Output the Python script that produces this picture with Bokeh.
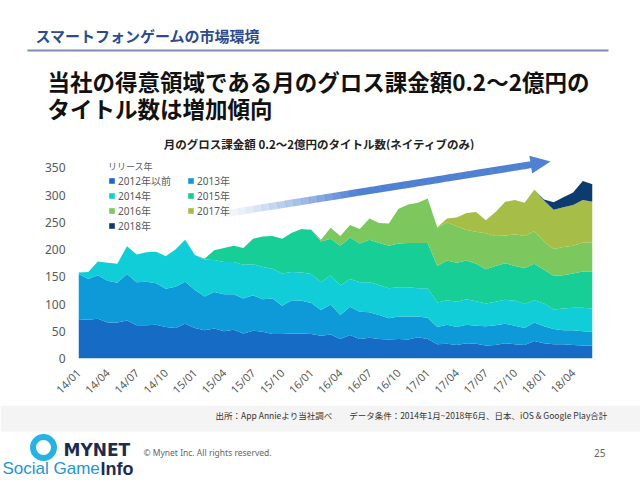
import math
from bokeh.plotting import figure
from bokeh.layouts import column
from bokeh.models import ColumnDataSource, Range1d, FixedTicker, Label
from bokeh.embed import file_html
from bokeh.resources import INLINE

# ---------------- data ----------------
tick_labels = ["14/01", "14/04", "14/07", "14/10", "15/01", "15/04", "15/07", "15/10",
               "16/01", "16/04", "16/07", "16/10", "17/01", "17/04", "17/07", "17/10",
               "18/01", "18/04"]
release_years = ["2012年以前", "2013年", "2014年", "2015年", "2016年", "2017年", "2018年"]

s2012 = [72, 71, 73, 66, 66, 70, 61, 61, 62, 58, 56, 64, 56, 52, 55, 50, 53, 46, 51, 49,
         45, 45, 46, 46, 45, 42, 44, 36, 43, 36, 38, 36, 35, 36, 35, 39, 36, 26, 27, 25,
         28, 27, 24, 25, 28, 26, 25, 32, 28, 26, 26, 25, 24, 24]
s2013 = [83, 75, 80, 77, 73, 85, 79, 80, 76, 70, 76, 77, 70, 62, 67, 68, 65, 64, 65, 60,
         65, 52, 61, 60, 57, 47, 55, 44, 52, 50, 47, 44, 39, 41, 42, 38, 39, 32, 35, 33,
         34, 33, 35, 36, 36, 34, 31, 34, 31, 28, 26, 27, 26, 25]
s2014 = [3, 13, 25, 33, 35, 51, 51, 54, 58, 60, 68, 77, 64, 68, 59, 59, 59, 62, 57, 59,
         55, 59, 52, 52, 53, 51, 54, 54, 51, 54, 55, 55, 55, 54, 54, 52, 54, 45, 45, 46,
         47, 45, 42, 43, 44, 46, 44, 41, 42, 36, 40, 41, 43, 43]
s2015 = [0, 0, 0, 0, 0, 0, 0, 0, 0, 0, 0, 0, 0, 1, 18, 26, 30, 31, 47, 56,
         60, 64, 72, 80, 81, 75, 67, 73, 76, 71, 78, 77, 78, 80, 81, 83, 83, 67, 73, 72,
         71, 69, 63, 66, 67, 64, 66, 67, 62, 62, 61, 63, 67, 68]
s2016 = [0, 0, 0, 0, 0, 0, 0, 0, 0, 0, 0, 0, 0, 0, 0, 0, 0, 0, 0, 0,
         0, 0, 0, 0, 1, 3, 20, 18, 23, 27, 39, 37, 41, 64, 71, 74, 82, 70, 70, 67,
         56, 59, 66, 55, 51, 58, 59, 60, 52, 49, 52, 51, 53, 53]
s2017 = [0, 0, 0, 0, 0, 0, 0, 0, 0, 0, 0, 0, 0, 0, 0, 0, 0, 0, 0, 0,
         0, 0, 0, 0, 0, 0, 0, 0, 0, 0, 0, 0, 0, 0, 0, 0, 0, 1, 7, 16,
         31, 36, 24, 44, 62, 63, 61, 76, 75, 72, 73, 75, 78, 75]
s2018 = [0, 0, 0, 0, 0, 0, 0, 0, 0, 0, 0, 0, 0, 0, 0, 0, 0, 0, 0, 0,
         0, 0, 0, 0, 0, 0, 0, 0, 0, 0, 0, 0, 0, 0, 0, 0, 0, 0, 0, 0,
         0, 0, 0, 0, 0, 0, 0, 0, 2, 14, 18, 23, 35, 32]
y_ticks = [0, 50, 100, 150, 200, 250, 300, 350]

colors = ["#166cc4", "#0e9ad8", "#10cdd8", "#16ce96", "#7cc85e", "#a6be48", "#0d3b6e"]

JP = "Noto Sans CJK JP"
W = 640


def deco_fig(y0, h):
    f = figure(width=W, height=h, output_backend="svg", toolbar_location=None,
               x_range=Range1d(0, W), y_range=Range1d(y0 + h, y0),
               x_axis_type=None, y_axis_type=None,
               min_border_left=0, min_border_right=0, min_border_top=0, min_border_bottom=0)
    f.outline_line_color = None
    f.background_fill_color = "white"
    f.border_fill_color = "white"
    f.frame_align = False
    return f


def add_text(f, text, x, y, size, color, bold=False, align="left", font=JP):
    f.add_layout(Label(x=x, y=y, text=text, text_font=font, text_font_size=f"{size}px",
                       text_color=color, text_font_style="bold" if bold else "normal",
                       text_align=align, text_baseline="middle"))


# ---------------- top (slide header) ----------------
TOP_H = 150
top = deco_fig(0, TOP_H)
add_text(top, "スマートフォンゲームの市場環境", 35, 35, 15, "#2d4b8e", bold=True)
top.segment(x0=[27], y0=[50], x1=[608], y1=[50], line_color="#7d8db5", line_width=2)
add_text(top, "当社の得意領域である月のグロス課金額0.2～2億円の", 47, 80, 22.5, "#111111", bold=True)
add_text(top, "タイトル数は増加傾向", 47, 107, 22.5, "#111111", bold=True)
add_text(top, "月のグロス課金額 0.2～2億円のタイトル数(ネイティブのみ)", 319, 143, 11.5,
         "#222222", bold=True, align="center")

# ---------------- chart ----------------
N = len(s2012)
keys = ["s2012", "s2013", "s2014", "s2015", "s2016", "s2017", "s2018"]
src = ColumnDataSource(dict(x=list(range(N)), s2012=s2012, s2013=s2013, s2014=s2014,
                            s2015=s2015, s2016=s2016, s2017=s2017, s2018=s2018))

CH_Y0, CH_H = TOP_H, 255          # chart figure spans canvas y 150..405
FL, FR, FT, FB = 78, 592, 150, 358  # frame in canvas pixels
YMAX = 382

p = figure(width=W, height=CH_H, output_backend="svg", toolbar_location=None,
           x_range=Range1d(0, N - 1), y_range=Range1d(0, YMAX),
           min_border_left=FL, min_border_right=W - FR,
           min_border_top=FT - CH_Y0, min_border_bottom=CH_Y0 + CH_H - FB)
p.frame_align = False
p.outline_line_color = None
p.background_fill_color = "white"
p.border_fill_color = "white"
p.xgrid.grid_line_color = None
p.ygrid.grid_line_color = None

p.varea_stack(stackers=keys, x="x", color=colors, source=src, legend_label=release_years)

p.yaxis.ticker = FixedTicker(ticks=y_ticks)
p.yaxis.axis_line_color = None
p.yaxis.major_tick_line_color = None
p.yaxis.minor_tick_line_color = None
p.yaxis.major_label_text_font_size = "12px"
p.yaxis.major_label_text_color = "#595959"
p.yaxis.major_label_text_font = "Noto Sans"
p.yaxis.major_label_standoff = 7

tick_pos = list(range(0, 3 * len(tick_labels), 3))
p.xaxis.ticker = FixedTicker(ticks=tick_pos)
p.xaxis.major_label_overrides = {t: l for t, l in zip(tick_pos, tick_labels)}
p.xaxis.major_label_orientation = math.pi / 4
p.xaxis.axis_line_color = None
p.xaxis.major_tick_line_color = None
p.xaxis.minor_tick_line_color = None
p.xaxis.major_label_text_font_size = "11px"
p.xaxis.major_label_text_color = "#595959"
p.xaxis.major_label_text_font = "Noto Sans"
p.xaxis.major_label_standoff = 6

lg = p.legend[0]
items = list(lg.items)
lg.items = [items[i] for i in (0, 2, 4, 6, 1, 3, 5)]   # column-major -> row order of reference
lg.ncols = 2
lg.title = "リリース年"
lg.title_text_font = JP
lg.title_text_font_size = "9px"
lg.title_text_color = "#595959"
lg.title_text_font_style = "normal"
lg.title_text_line_height = 1.0
lg.title_standoff = 0
lg.label_text_font = "'Noto Sans', 'Noto Sans CJK JP'"
lg.label_text_font_size = "10px"
lg.label_text_line_height = 1.0
lg.label_text_color = "#595959"
lg.label_height = 11
lg.label_width = 69
lg.label_standoff = 3
lg.glyph_width = 7
lg.glyph_height = 7
lg.spacing = 0
lg.padding = 0
lg.margin = 0
lg.background_fill_alpha = 0
lg.border_line_color = None
lg.location = (30, 125)


def dx(px):
    return (px - FL) * (N - 1) / (FR - FL)


def dy(py):
    return (FB - py) * YMAX / (FB - FT)


# trend arrow (gradient shaft)
tail = (214.0, 215.0)
tip = (550.0, 161.0)
L = math.hypot(tip[0] - tail[0], tip[1] - tail[1])
ux, uy = (tip[0] - tail[0]) / L, (tip[1] - tail[1]) / L
nx, ny = -uy, ux
head_len, head_hw, shaft_hw = 20.0, 9.0, 3.5
bxp, byp = tip[0] - ux * head_len, tip[1] - uy * head_len
xs, ys, al = [], [], []
NS = 40
for k in range(NS):
    t0, t1 = k / NS, (k + 1) / NS
    ax0, ay0 = tail[0] + (bxp - tail[0]) * t0, tail[1] + (byp - tail[1]) * t0
    ax1 = tail[0] + (bxp - tail[0]) * t1 + ux * 0.4
    ay1 = tail[1] + (byp - tail[1]) * t1 + uy * 0.4
    pts = [(ax0 + nx * shaft_hw, ay0 + ny * shaft_hw), (ax1 + nx * shaft_hw, ay1 + ny * shaft_hw),
           (ax1 - nx * shaft_hw, ay1 - ny * shaft_hw), (ax0 - nx * shaft_hw, ay0 - ny * shaft_hw)]
    xs.append([dx(a) for a, b in pts])
    ys.append([dy(b) for a, b in pts])
    al.append(min(1.0, ((t0 + t1) / 2) / 0.45) ** 1.3)
head = [(bxp + nx * head_hw, byp + ny * head_hw), tip, (bxp - nx * head_hw, byp - ny * head_hw)]
xs.append([dx(a) for a, b in head])
ys.append([dy(b) for a, b in head])
al.append(1.0)
p.patches("xs", "ys", source=ColumnDataSource(dict(xs=xs, ys=ys, a=al)),
          fill_color="#4f80d2", fill_alpha="a", line_color=None)

# ---------------- footer ----------------
FT_Y0 = CH_Y0 + CH_H
foot = deco_fig(FT_Y0, 480 - FT_Y0)
foot.quad(left=[0], right=[640], top=[FT_Y0], bottom=[431], fill_color="#f4f4f4", line_color=None)
add_text(foot, "出所：App Annieより当社調べ　　データ条件：2014年1月~2018年6月、日本、iOS & Google Play合計",
         607, 414, 8.5, "#333333", align="right")
add_text(foot, "© Mynet Inc. All rights reserved.", 143, 452, 8.5, "#666666", font="Noto Sans")
add_text(foot, "25", 605, 452, 10, "#666666", align="right", font="Noto Sans")
foot.annulus(x=[43], y=[447], inner_radius=7.5, outer_radius=13.5,
             fill_color="#27b2e4", line_color=None)
add_text(foot, "MYNET", 63, 449, 17, "#1c2c50", bold=True, font="DejaVu Sans")
add_text(foot, "Social Game", 2, 468, 17, "#2196d3", font="Liberation Sans")
add_text(foot, "Info", 100, 468, 18, "#1c2c50", bold=True, font="Liberation Sans")

layout = column(top, p, foot, spacing=0)
open("out.html", "w").write(file_html(layout, INLINE))
